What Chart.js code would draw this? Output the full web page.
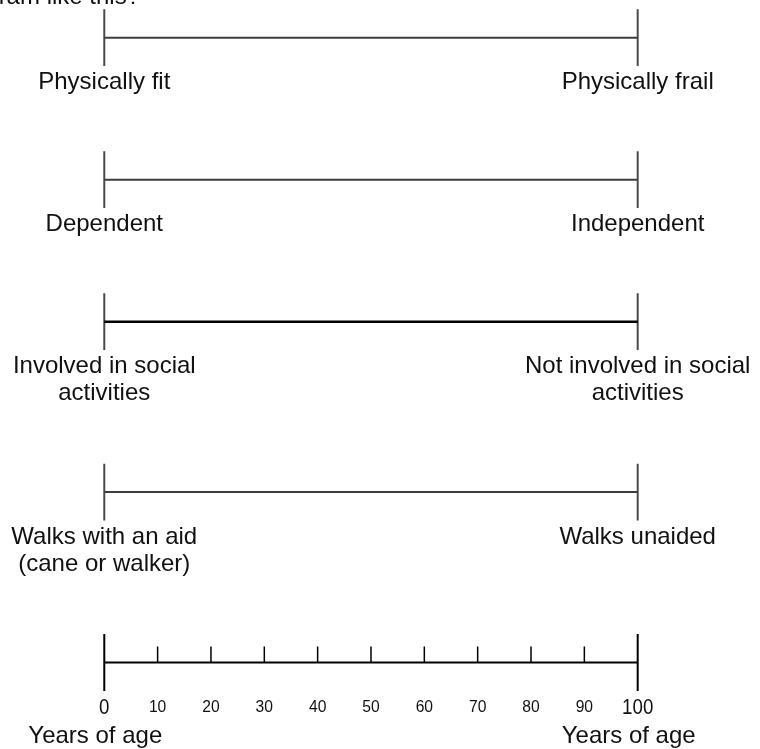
<!DOCTYPE html>
<html>
<head>
<meta charset="utf-8">
<script src="https://cdn.jsdelivr.net/npm/chart.js@4.4.1/dist/chart.umd.min.js"></script>
<style>
    body { margin: 0; background: #fff; }
    #wrap { width: 760px; height: 749px; }
</style>
</head>
<body>
<div id="wrap"><canvas id="scaleChart" width="760" height="749"></canvas></div>
<script>
// Chart data
const leftLabels = [
    ['Physically fit'],
    ['Dependent'],
    ['Involved in social', 'activities'],
    ['Walks with an aid', '(cane or walker)'],
    ['Years of age']
];
const rightLabels = [
    ['Physically frail'],
    ['Independent'],
    ['Not involved in social', 'activities'],
    ['Walks unaided'],
    ['Years of age']
];
const ageTicks = [0, 10, 20, 30, 40, 50, 60, 70, 80, 90, 100];
const scaleStart = 0;
const scaleEnd = 100;
const headerText = 'ram like this?';

// Layout (row positions in row units, not data)
const rowPos = [0, 1, 2, 3.2, 4.4];
const capHalf = 0.2;
const minorTick = 0.113;

const datasets = [];
rowPos.forEach(function(y, i) {
    const isAge = i === rowPos.length - 1;
    datasets.push({
        data: [{x: scaleStart, y: y}, {x: scaleEnd, y: y}],
        borderColor: (i === 2 || isAge) ? '#000' : '#3c3c3c',
        borderWidth: i === 2 ? 2.5 : 2
    });
    [scaleStart, scaleEnd].forEach(function(x) {
        datasets.push({
            data: [{x: x, y: y - capHalf}, {x: x, y: y + capHalf}],
            borderColor: isAge ? '#000' : '#4a4a4a',
            borderWidth: 2
        });
    });
});
const ageY = rowPos[rowPos.length - 1];
ageTicks.filter(t => t !== scaleStart && t !== scaleEnd).forEach(function(t) {
    datasets.push({
        data: [{x: t, y: ageY}, {x: t, y: ageY - minorTick}],
        borderColor: '#000',
        borderWidth: 1.5
    });
});
datasets.forEach(function(d) {
    d.showLine = true;
    d.pointRadius = 0;
    d.borderCapStyle = 'butt';
    d.fill = false;
});

const textPlugin = {
    id: 'scaleText',
    afterDraw: function(chart) {
        const ctx = chart.ctx;
        const xs = chart.scales.x;
        const ys = chart.scales.y;
        const font = "'Liberation Sans', Arial, sans-serif";
        ctx.save();
        ctx.fillStyle = '#111';
        ctx.textBaseline = 'alphabetic';

        // cut-off heading
        ctx.font = '24px ' + font;
        ctx.textAlign = 'right';
        ctx.fillText(headerText, 140, 4);

        ctx.textAlign = 'center';
        ctx.font = '24px ' + font;
        rowPos.forEach(function(y, i) {
            const isAge = i === rowPos.length - 1;
            const base = ys.getPixelForValue(y) + (isAge ? 80 : 51.5);
            const shift = isAge ? -9 : 0;
            const lx = xs.getPixelForValue(scaleStart) + shift;
            const rx = xs.getPixelForValue(scaleEnd) + shift;
            leftLabels[i].forEach(function(line, k) {
                ctx.fillText(line, lx, base + k * 27);
            });
            rightLabels[i].forEach(function(line, k) {
                ctx.fillText(line, rx, base + k * 27);
            });
        });

        // age tick labels
        const tickBase = ys.getPixelForValue(ageY);
        ageTicks.forEach(function(t) {
            const px = xs.getPixelForValue(t);
            const big = t === scaleStart || t === scaleEnd;
            ctx.save();
            ctx.translate(px, tickBase + (big ? 51 : 49));
            if (big) {
                ctx.scale(0.85, 1);
                ctx.font = '22px ' + font;
            } else {
                ctx.scale(0.92, 1);
                ctx.font = '17px ' + font;
            }
            ctx.fillText(String(t), 0, 0);
            ctx.restore();
        });
        ctx.restore();
    }
};

const chart = new Chart(document.getElementById('scaleChart').getContext('2d'), {
    type: 'scatter',
    data: { datasets: datasets },
    options: {
        responsive: false,
        animation: false,
        layout: { padding: 0 },
        plugins: {
            legend: { display: false },
            tooltip: { enabled: false }
        },
        scales: {
            x: {
                type: 'linear',
                display: false,
                min: -19.55,
                max: 122.93
            },
            y: {
                type: 'linear',
                display: false,
                reverse: true,
                min: -0.2655,
                max: 5.009
            }
        }
    },
    plugins: [textPlugin]
});
</script>
</body>
</html>
